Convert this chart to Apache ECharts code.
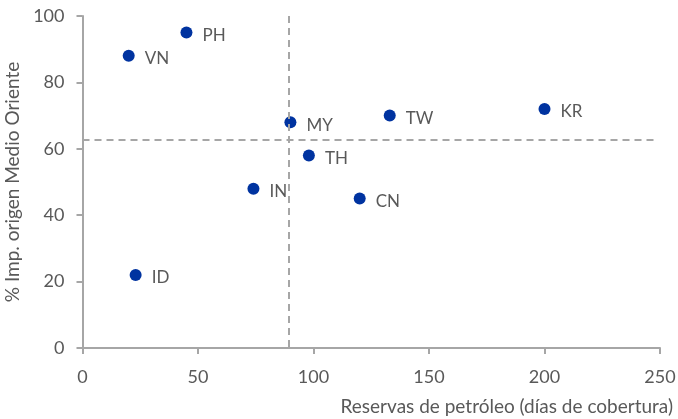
<!DOCTYPE html>
<html>
<head>
<meta charset="utf-8">
<script src="https://cdn.jsdelivr.net/npm/echarts@6/dist/echarts.min.js"></script>
<style>html,body{margin:0;padding:0;background:#fff;}#c{width:678px;height:419px;}</style>
</head>
<body>
<div id="c"></div>
<script>
var countries = ['PH','VN','MY','TW','KR','TH','IN','CN','ID'];
var reserves  = [45, 20, 90, 133, 200, 98, 74, 120, 23];
var shares    = [95, 88, 68, 70, 72, 58, 48, 45, 22];
var refX = [89.5];
var refY = [62.7];
var xTicks = [0, 50, 100, 150, 200, 250];
var yTicks = [0, 20, 40, 60, 80, 100];

var data = countries.map(function(c, i){ return {name: c, value: [reserves[i], shares[i]]}; });
var grey = '#a6a6a6', txt = '#595959', font = 'Lato';

var chart = echarts.init(document.getElementById('c'), null, {renderer:'canvas'});
chart.setOption({
  animation: false,
  grid: {left: 82.5, right: 18, top: 16, bottom: 71, containLabel: false, outerBoundsMode: 'none'},
  xAxis: {
    type: 'value', min: xTicks[0], max: xTicks[xTicks.length-1], interval: 50,
    name: 'Reservas de petróleo (días de cobertura)',
    nameLocation: 'end', nameGap: 13,
    nameTextStyle: {color: txt, fontSize: 19, fontFamily: font, align: 'right', verticalAlign: 'top', padding: [49,0,0,0]},
    axisLine: {show: true, onZero: false, lineStyle: {color: grey, width: 2}},
    axisTick: {show: true, length: 6, lineStyle: {color: grey, width: 2}},
    axisLabel: {color: txt, fontSize: 18, fontFamily: font, margin: 20},
    splitLine: {show: false}
  },
  yAxis: {
    type: 'value', min: yTicks[0], max: yTicks[yTicks.length-1], interval: 20,
    name: '% Imp. origen Medio Oriente',
    nameLocation: 'middle', nameGap: 55,
    nameTextStyle: {color: txt, fontSize: 19, fontFamily: font},
    axisLine: {show: true, onZero: false, lineStyle: {color: grey, width: 2}},
    axisTick: {show: true, length: 6, lineStyle: {color: grey, width: 2}},
    axisLabel: {color: txt, fontSize: 18, fontFamily: font, margin: 18},
    splitLine: {show: false}
  },
  series: [{
    type: 'scatter',
    symbolSize: 12,
    itemStyle: {color: '#0033a0', opacity: 1},
    data: data,
    label: {
      show: true, position: 'right', distance: 10, offset: [0, 3],
      formatter: function(p){ return p.name; },
      color: txt, fontSize: 17, fontFamily: font
    },
    markLine: {
      silent: true, symbol: 'none', label: {show: false},
      lineStyle: {color: grey, width: 2, type: [7, 5]},
      data: [
        [{coord: [refX[0], yTicks[yTicks.length-1]]}, {coord: [refX[0], yTicks[0]]}],
        [{coord: [xTicks[0], refY[0]]}, {coord: [248.7, refY[0]]}]
      ]
    }
  }]
});
</script>
</body>
</html>
